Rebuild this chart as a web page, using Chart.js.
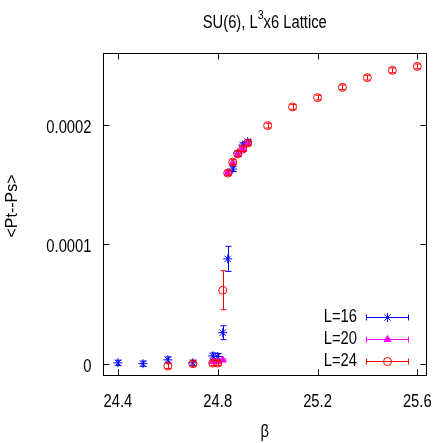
<!DOCTYPE html>
<html>
<head>
<meta charset="utf-8">
<script src="https://cdn.jsdelivr.net/npm/chart.js@4.4.1/dist/chart.umd.min.js"></script>
<style>
    html, body { margin: 0; padding: 0; background: #ffffff; }
</style>
</head>
<body>
<canvas id="plot" width="436" height="443"></canvas>
<script>
// L=16
const beta16 = [24.4, 24.5, 24.6, 24.7, 24.78, 24.8, 24.82, 24.84, 24.86, 24.88, 24.9, 24.92];
const pol16 = [0.000001, 0.0000003, 0.0000035, 0.000001, 0.0000068, 0.0000063, 0.0000262, 0.0000879, 0.000163, 0.0001763, 0.000183, 0.0001858];
const err16 = [0.0000022, 0.0000022, 0.0000025, 0.0000022, 0.0000025, 0.0000025, 0.0000058, 0.0000105, 0.000002, 0.000002, 0.000002, 0.000002];

// L=20
const beta20 = [24.78, 24.8, 24.82, 24.84, 24.86, 24.88, 24.9, 24.92];
const pol20 = [0.000002, 0.000002, 0.0000033, 0.00016, 0.000168, 0.000175, 0.00018, 0.000184];
const err20 = [0.000001, 0.000001, 0.000001, 0.000001, 0.000001, 0.000001, 0.000001, 0.000001];

// L=24
const beta24 = [24.6, 24.7, 24.78, 24.8, 24.82, 24.84, 24.86, 24.88, 24.9, 24.92, 25.0, 25.1, 25.2, 25.3, 25.4, 25.5, 25.6];
const pol24 = [-0.0000017, 0.0000003, 0.0000008, 0.0000008, 0.0000617, 0.0001596, 0.0001688, 0.0001757, 0.0001797, 0.0001847, 0.0001993, 0.0002149, 0.0002227, 0.0002313, 0.0002394, 0.0002455, 0.0002488];
const err24 = [0.000002, 0.000002, 0.000002, 0.000002, 0.0000163, 0.000002, 0.000002, 0.000002, 0.000002, 0.000002, 0.000002, 0.000002, 0.000002, 0.000002, 0.000002, 0.000002, 0.000002];

const xTicks = [24.4, 24.8, 25.2, 25.6];
const yTicks = [0, 0.0001, 0.0002];

const FAMILY = '"Liberation Sans", Arial, sans-serif';

function toPoints(xs, ys) {
    return xs.map((x, i) => ({ x: x, y: ys[i] }));
}

// the reference uses a narrow helvetica, so squeeze liberation sans sideways
function narrowText(ctx, text, x, y, size, align) {
    ctx.save();
    ctx.translate(x, y);
    ctx.scale(0.82, 1);
    ctx.font = size + "px " + FAMILY;
    ctx.textAlign = align;
    ctx.textBaseline = "alphabetic";
    ctx.fillText(text, 0, 0);
    ctx.restore();
}

function narrowWidth(ctx, text, size) {
    ctx.font = size + "px " + FAMILY;
    return ctx.measureText(text).width * 0.82;
}

// gnuplot style error bars, drawn just before each dataset's markers
const errorBars = {
    id: "errorBars",
    beforeDatasetDraw(chart, args) {
        const ds = chart.data.datasets[args.index];
        const ctx = chart.ctx;
        const x = chart.scales.x;
        const y = chart.scales.y;
        ctx.save();
        ctx.strokeStyle = ds.borderColor;
        ctx.lineWidth = 1;
        ds.data.forEach((p, i) => {
            const px = Math.round(x.getPixelForValue(p.x)) + 0.5;
            const lo = y.getPixelForValue(p.y - ds.errors[i]);
            const hi = y.getPixelForValue(p.y + ds.errors[i]);
            ctx.beginPath();
            ctx.moveTo(px, lo);
            ctx.lineTo(px, hi);
            ctx.moveTo(px - 3, lo);
            ctx.lineTo(px + 3, lo);
            ctx.moveTo(px - 3, hi);
            ctx.lineTo(px + 3, hi);
            ctx.stroke();
        });
        ctx.restore();
    }
};

// box border with inward ticks on all four sides, plus tick labels
const frame = {
    id: "frame",
    beforeDatasetsDraw(chart) {
        const ctx = chart.ctx;
        const a = chart.chartArea;
        const x = chart.scales.x;
        const y = chart.scales.y;
        const L = Math.round(a.left) + 0.5, R = Math.round(a.right) - 0.5;
        const T = Math.round(a.top) + 0.5, B = Math.round(a.bottom) - 0.5;
        ctx.save();
        ctx.strokeStyle = "#000000";
        ctx.fillStyle = "#000000";
        ctx.lineWidth = 1;
        ctx.strokeRect(L, T, R - L, B - T);
        ctx.beginPath();
        x.ticks.forEach(t => {
            const px = Math.round(x.getPixelForValue(t.value)) + 0.5;
            ctx.moveTo(px, B); ctx.lineTo(px, B - 6);
            ctx.moveTo(px, T); ctx.lineTo(px, T + 6);
        });
        y.ticks.forEach(t => {
            const py = Math.round(y.getPixelForValue(t.value)) + 0.5;
            ctx.moveTo(L, py); ctx.lineTo(L + 6, py);
            ctx.moveTo(R, py); ctx.lineTo(R - 6, py);
        });
        ctx.stroke();

        x.ticks.forEach(t => {
            narrowText(ctx, t.value.toFixed(1), x.getPixelForValue(t.value), B + 31, 18, "center");
        });
        y.ticks.forEach(t => {
            const label = t.value === 0 ? "0" : t.value.toFixed(4);
            narrowText(ctx, label, L - 12, y.getPixelForValue(t.value) + 8, 18, "right");
        });
        ctx.restore();
    }
};

// title, axis labels and key
const texts = {
    id: "texts",
    afterDraw(chart) {
        const ctx = chart.ctx;
        const a = chart.chartArea;
        ctx.save();
        ctx.fillStyle = "#000000";

        // title with superscript
        const w1 = narrowWidth(ctx, "SU(6), L", 18);
        const w2 = narrowWidth(ctx, "3", 13);
        const w3 = narrowWidth(ctx, "x6 Lattice", 18);
        const tx = (a.left + a.right) / 2 - (w1 + w2 + w3) / 2;
        narrowText(ctx, "SU(6), L", tx, 28, 18, "left");
        narrowText(ctx, "3", tx + w1, 19, 13, "left");
        narrowText(ctx, "x6 Lattice", tx + w1 + w2, 28, 18, "left");

        // x axis label
        narrowText(ctx, "β", (a.left + a.right) / 2, 437, 18, "center");

        // y axis label
        ctx.save();
        ctx.translate(13, 206);
        ctx.rotate(-Math.PI / 2);
        ctx.font = "16px " + FAMILY;
        ctx.textAlign = "center";
        ctx.textBaseline = "middle";
        ctx.fillText("<Pt--Ps>", 0, 0);
        ctx.restore();

        // key
        const rows = [317, 339, 361];
        chart.data.datasets.slice().sort((p, q) => p.keyRow - q.keyRow).forEach((ds, i) => {
            const ky = rows[i] + 0.5;
            ctx.fillStyle = "#000000";
            narrowText(ctx, ds.label, 357, rows[i] + 4.5, 18, "right");
            ctx.strokeStyle = ds.borderColor;
            ctx.lineWidth = 1;
            ctx.beginPath();
            ctx.moveTo(366, ky); ctx.lineTo(409, ky);
            ctx.moveTo(366.5, ky - 3); ctx.lineTo(366.5, ky + 3);
            ctx.moveTo(408.5, ky - 3); ctx.lineTo(408.5, ky + 3);
            ctx.stroke();
            ctx.fillStyle = ds.backgroundColor;
            Chart.helpers.drawPoint(ctx, {
                pointStyle: ds.pointStyle,
                radius: ds.pointRadius,
                borderWidth: 1,
                rotation: 0
            }, 387.5, ky);
        });
        ctx.restore();
    }
};

new Chart(document.getElementById("plot"), {
    type: "scatter",
    data: {
        datasets: [{
            label: "L=24",
            data: toPoints(beta24, pol24),
            errors: err24,
            keyRow: 2,
            order: 1,
            pointStyle: "circle",
            pointRadius: 4,
            borderColor: "#ff0000",
            backgroundColor: "rgba(255,255,255,0)",
            borderWidth: 1
        }, {
            label: "L=20",
            data: toPoints(beta20, pol20),
            errors: err20,
            keyRow: 1,
            order: 2,
            pointStyle: "triangle",
            pointRadius: 4,
            borderColor: "#ff00ff",
            backgroundColor: "#ff00ff",
            borderWidth: 1
        }, {
            label: "L=16",
            data: toPoints(beta16, pol16),
            errors: err16,
            keyRow: 0,
            order: 3,
            pointStyle: "star",
            pointRadius: 4.5,
            borderColor: "#0000ff",
            backgroundColor: "#0000ff",
            borderWidth: 1
        }]
    },
    options: {
        responsive: false,
        animation: false,
        devicePixelRatio: 1,
        layout: {
            padding: { top: 53, right: 9.5, left: 0, bottom: 0 }
        },
        plugins: {
            legend: { display: false },
            tooltip: { enabled: false },
            title: { display: false }
        },
        scales: {
            x: {
                type: "linear",
                min: 24.34,
                max: 25.637,
                grid: { display: false },
                border: { display: false },
                afterBuildTicks: scale => {
                    scale.ticks = xTicks.map(v => ({ value: v }));
                },
                afterFit: scale => {
                    scale.height = 67;
                    scale.paddingLeft = 0;
                    scale.paddingRight = 0;
                },
                ticks: { display: false }
            },
            y: {
                type: "linear",
                min: -0.00001,
                max: 0.00026,
                grid: { display: false },
                border: { display: false },
                afterBuildTicks: scale => {
                    scale.ticks = yTicks.map(v => ({ value: v }));
                },
                afterFit: scale => {
                    scale.width = 103;
                    scale.paddingTop = 0;
                    scale.paddingBottom = 0;
                },
                ticks: { display: false }
            }
        }
    },
    plugins: [errorBars, frame, texts]
});
</script>
</body>
</html>
